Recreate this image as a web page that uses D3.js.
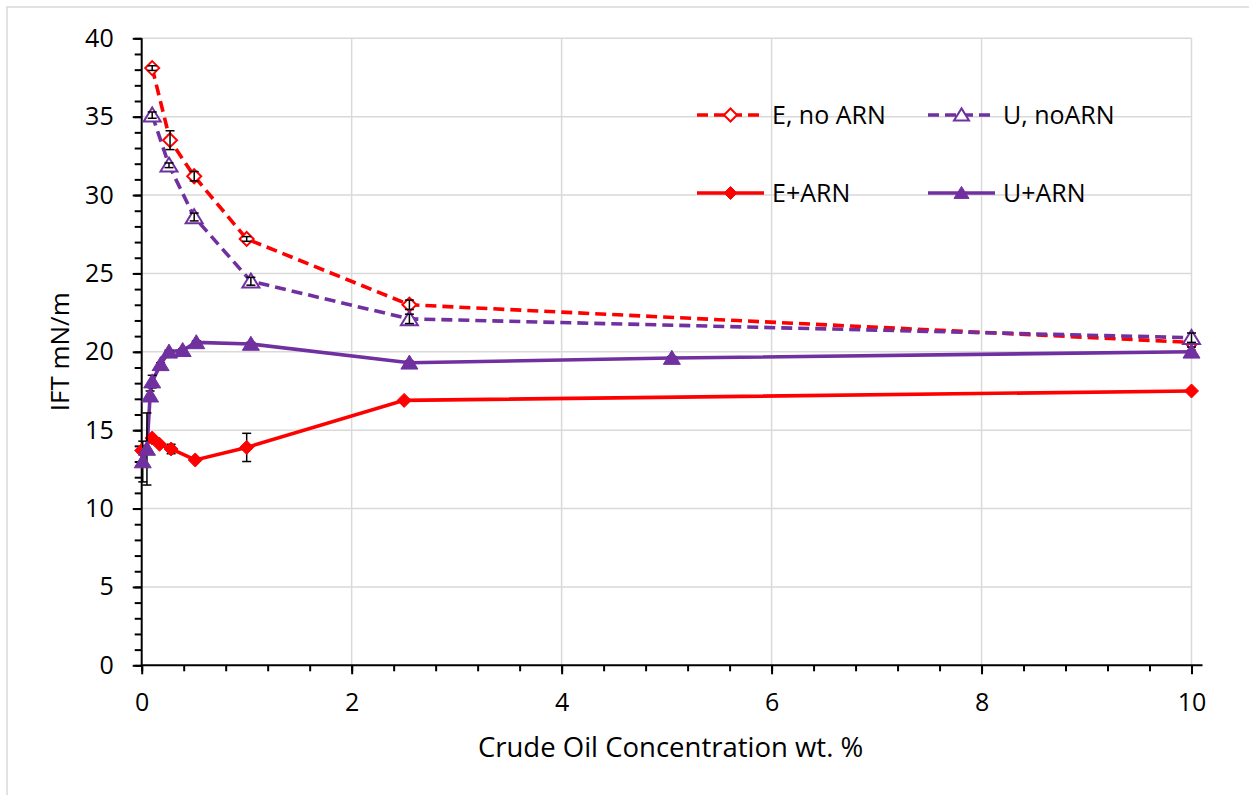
<!DOCTYPE html>
<html>
<head>
<meta charset="utf-8">
<style>
body { margin: 0; background: #fff; }
svg text { font-family: "Open Sans", sans-serif; fill: #000; }
.grid line { stroke: #d9d9d9; stroke-width: 1.5; }
.axis path, .axis line { stroke: #000; stroke-width: 2; fill: none; }
.axis text { font-size: 25px; }
</style>
</head>
<body>
<script src="https://d3js.org/d3.v7.min.js"></script>
<script>

// data
var eNoX = [0.1, 0.27, 0.5, 1.0, 2.55, 10.0];
var eNoY = [38.1, 33.5, 31.2, 27.2, 23.0, 20.6];
var eNoErr = [0.15, 0.6, 0.3, 0.15, 0.3, 0.3];

var uNoX = [0.1, 0.26, 0.5, 1.04, 2.55, 10.0];
var uNoY = [35.1, 31.9, 28.6, 24.5, 22.1, 20.9];
var uNoErr = [0.2, 0.15, 0.25, 0.25, 0.3, 0.3];

var eArnX = [0, 0.1, 0.17, 0.28, 0.51, 1.0, 2.5, 10.0];
var eArnY = [13.7, 14.5, 14.1, 13.8, 13.1, 13.9, 16.9, 17.5];
var eArnErr = [0.1, 0.1, 0.1, 0.3, 0.1, 0.9, 0.1, 0.1];

var uArnX = [0.01, 0.05, 0.08, 0.1, 0.18, 0.26, 0.39, 0.52, 1.04, 2.55, 5.05, 10.0];
var uArnY = [13.0, 13.8, 17.2, 18.1, 19.2, 20.0, 20.1, 20.6, 20.5, 19.3, 19.6, 20.0];
var uArnErr = [1.3, 2.3, 0.3, 0.4, 0.1, 0.1, 0.1, 0.1, 0.1, 0.1, 0.1, 0.1];

var xTicks = [0, 2, 4, 6, 8, 10];
var yTicks = [0, 5, 10, 15, 20, 25, 30, 35, 40];

var seriesNames = ["E, no ARN", "U, noARN", "E+ARN", "U+ARN"];

function zip(xs, ys, es) {
    var out = [];
    for (var i = 0; i < xs.length; i++) {
        out.push({x: xs[i], y: ys[i], e: es[i]});
    }
    return out;
}

var series = [
    {name: seriesNames[0], color: "#ff0000", dash: "11,6", marker: "diamond", filled: false, data: zip(eNoX, eNoY, eNoErr)},
    {name: seriesNames[1], color: "#7030a0", dash: "11,6", marker: "triangle", filled: false, data: zip(uNoX, uNoY, uNoErr)},
    {name: seriesNames[2], color: "#ff0000", dash: null, marker: "diamond", filled: true, data: zip(eArnX, eArnY, eArnErr)},
    {name: seriesNames[3], color: "#7030a0", dash: null, marker: "triangle", filled: true, data: zip(uArnX, uArnY, uArnErr)}
];

// plot area in pixels
var W = 1249, H = 795;
var pLeft = 141.7, pRight = 1191.5, pTop = 38.3, pBottom = 665.3;

var svg = d3.select("body")
    .append("svg")
    .attr("width", W)
    .attr("height", H);

// chart frame (only left and top edges show)
svg.append("rect")
    .attr("x", 7).attr("y", 7)
    .attr("width", 1300).attr("height", 900)
    .attr("fill", "none")
    .attr("stroke", "#d9d9d9")
    .attr("stroke-width", 1.5);

var x = d3.scaleLinear().domain([0, 10]).range([pLeft, pRight]);
var y = d3.scaleLinear().domain([0, 40]).range([pBottom, pTop]);

// gridlines
svg.append("g").attr("class", "grid")
    .selectAll("line")
    .data(xTicks.slice(1))
    .enter().append("line")
    .attr("x1", function(d) { return x(d); })
    .attr("x2", function(d) { return x(d); })
    .attr("y1", y(0)).attr("y2", y(40));

svg.append("g").attr("class", "grid")
    .selectAll("line")
    .data(yTicks.slice(1))
    .enter().append("line")
    .attr("x1", x(0)).attr("x2", x(10))
    .attr("y1", function(d) { return y(d); })
    .attr("y2", function(d) { return y(d); });

// minor ticks
svg.append("g")
    .attr("class", "axis")
    .attr("transform", "translate(0," + pBottom + ")")
    .call(d3.axisBottom(x).tickValues(d3.range(0, 10.01, 0.4)).tickSize(6).tickFormat("").tickSizeOuter(0))
    .select(".domain").remove();

svg.append("g")
    .attr("class", "axis")
    .attr("transform", "translate(" + pLeft + ",0)")
    .call(d3.axisLeft(y).tickValues(d3.range(0, 40.01, 1)).tickSize(7).tickFormat("").tickSizeOuter(0))
    .select(".domain").remove();

// major axes
var xAxis = svg.append("g")
    .attr("class", "axis")
    .attr("transform", "translate(0," + pBottom + ")")
    .call(d3.axisBottom(x).tickValues(xTicks).tickSize(9).tickPadding(19).tickSizeOuter(0));
xAxis.select(".domain").remove();

var yAxis = svg.append("g")
    .attr("class", "axis")
    .attr("transform", "translate(" + pLeft + ",0)")
    .call(d3.axisLeft(y).tickValues(yTicks).tickSize(9).tickPadding(19).tickSizeOuter(0));
yAxis.select(".domain").remove();

svg.append("line")
    .attr("x1", x(0)).attr("x2", x(10) + 11)
    .attr("y1", pBottom).attr("y2", pBottom)
    .attr("stroke", "#000").attr("stroke-width", 2);
svg.append("line")
    .attr("x1", pLeft).attr("x2", pLeft)
    .attr("y1", y(0) + 1).attr("y2", y(40))
    .attr("stroke", "#000").attr("stroke-width", 2);

// axis titles
svg.append("text")
    .attr("transform", "translate(60," + ((pTop + pBottom) / 2) + ") rotate(-90)")
    .attr("text-anchor", "middle")
    .attr("dy", "0.35em")
    .style("font-size", "26px")
    .text("IFT mN/m");

svg.append("text")
    .attr("x", (pLeft + pRight) / 2 + 4)
    .attr("y", 757)
    .attr("text-anchor", "middle")
    .style("font-size", "27.5px")
    .text("Crude Oil Concentration wt. %");

var line = d3.line()
    .x(function(d) { return x(d.x); })
    .y(function(d) { return y(d.y); });

// lines
series.forEach(function(s) {
    svg.append("path")
        .datum(s.data)
        .attr("fill", "none")
        .attr("stroke", s.color)
        .attr("stroke-width", 3.6)
        .attr("stroke-dasharray", s.dash)
        .attr("d", line);
});

function drawMarker(g, s, cx, cy, big) {
    var m = g.append("path")
        .attr("fill", s.filled ? s.color : "#fff")
        .attr("stroke", s.color)
        .attr("stroke-width", s.filled ? 1 : 2);
    if (s.marker == "diamond") {
        var r = big ? 7 : 6.5;
        m.attr("d", "M0," + (-r) + "L" + r + ",0L0," + r + "L" + (-r) + ",0Z");
    } else {
        var h = big ? 14 : 12, w = big ? 8.5 : 7.5;
        m.attr("d", "M0," + (-h * 0.55) + "L" + w + "," + (h * 0.45) + "L" + (-w) + "," + (h * 0.45) + "Z");
    }
    m.attr("transform", "translate(" + cx + "," + cy + ")");
    return m;
}

function drawErrors(g, s) {
    s.data.forEach(function(d) {
        var cx = x(d.x), y1 = y(d.y - d.e), y2 = y(d.y + d.e);
        g.append("line").attr("x1", cx).attr("x2", cx).attr("y1", y1).attr("y2", y2)
            .attr("stroke", "#000").attr("stroke-width", 1.5);
        [y1, y2].forEach(function(yy) {
            g.append("line").attr("x1", cx - 4.5).attr("x2", cx + 4.5).attr("y1", yy).attr("y2", yy)
                .attr("stroke", "#000").attr("stroke-width", 1.5);
        });
    });
}

// filled series: error bars under markers; hollow series: over markers
series.forEach(function(s) {
    var g = svg.append("g");
    if (s.filled) drawErrors(g, s);
    s.data.forEach(function(d) {
        drawMarker(g, s, x(d.x), y(d.y), true);
    });
    if (!s.filled) drawErrors(g, s);
});

// legend
var legendPos = [
    {x: 697, y: 115},
    {x: 928, y: 115},
    {x: 697, y: 193},
    {x: 928, y: 193}
];

series.forEach(function(s, i) {
    var p = legendPos[i];
    var g = svg.append("g").attr("transform", "translate(" + p.x + "," + p.y + ")");
    g.append("line")
        .attr("x1", 0).attr("x2", 67)
        .attr("y1", 0).attr("y2", 0)
        .attr("stroke", s.color)
        .attr("stroke-width", 3.6)
        .attr("stroke-dasharray", s.dash);
    drawMarker(g, s, 33.5, 0, false);
    g.append("text")
        .attr("x", 75)
        .attr("dy", "0.35em")
        .style("font-size", "25px")
        .text(s.name);
});

</script>
</body>
</html>
